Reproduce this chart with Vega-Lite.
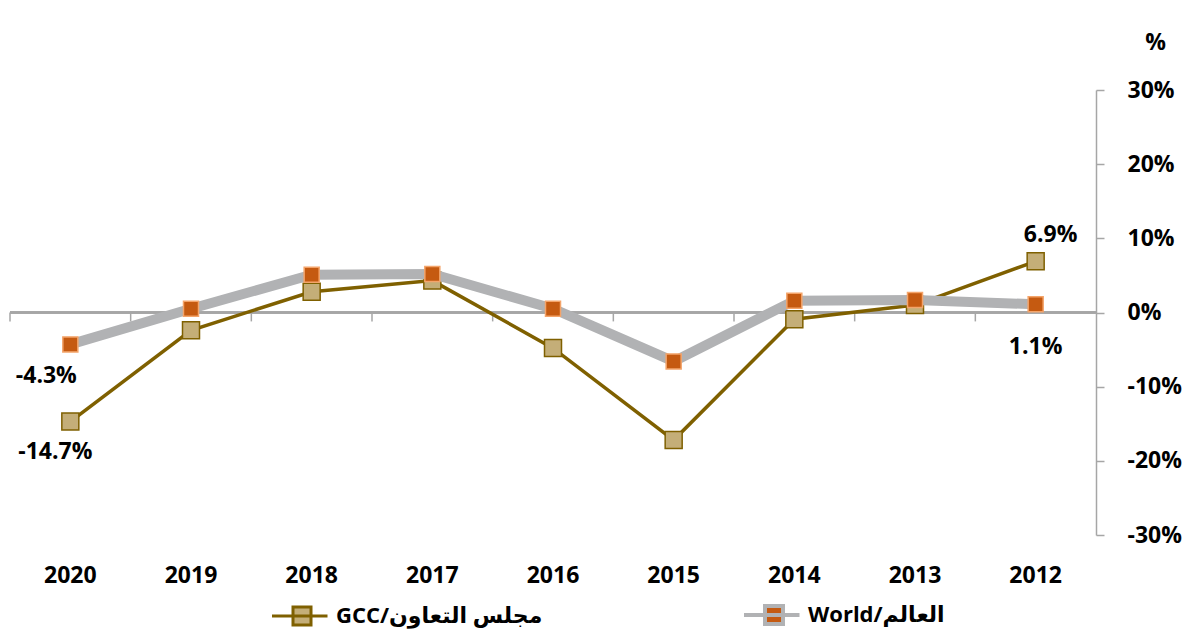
{
  "$schema": "https://vega.github.io/schema/vega-lite/v6.json",
  "width": 1086,
  "height": 445,
  "autosize": {"type": "none"},
  "padding": {"left": 10, "top": 90, "right": 87, "bottom": 109},
  "background": "#ffffff",
  "config": {
    "view": {"stroke": null},
    "font": "Open Sans",
    "axis": {"labelFont": "Open Sans", "labelFontWeight": "bold", "labelColor": "#000000", "labelFontSize": 23, "titleFont": "Open Sans", "titleColor": "#000000"},
    "legend": {"labelFont": "Open Sans, DejaVu Sans", "labelFontWeight": "bold", "labelColor": "#000000", "labelFontSize": 22, "labelLimit": 500}
  },
  "data": {
    "values": [
      {"year": 2020, "series": "GCC/مجلس التعاون", "value": -14.7},
      {"year": 2019, "series": "GCC/مجلس التعاون", "value": -2.4},
      {"year": 2018, "series": "GCC/مجلس التعاون", "value": 2.8},
      {"year": 2017, "series": "GCC/مجلس التعاون", "value": 4.3},
      {"year": 2016, "series": "GCC/مجلس التعاون", "value": -4.8},
      {"year": 2015, "series": "GCC/مجلس التعاون", "value": -17.2},
      {"year": 2014, "series": "GCC/مجلس التعاون", "value": -0.9},
      {"year": 2013, "series": "GCC/مجلس التعاون", "value": 1.0},
      {"year": 2012, "series": "GCC/مجلس التعاون", "value": 6.9},
      {"year": 2020, "series": "World/العالم", "value": -4.3},
      {"year": 2019, "series": "World/العالم", "value": 0.5},
      {"year": 2018, "series": "World/العالم", "value": 5.1},
      {"year": 2017, "series": "World/العالم", "value": 5.2},
      {"year": 2016, "series": "World/العالم", "value": 0.5},
      {"year": 2015, "series": "World/العالم", "value": -6.6},
      {"year": 2014, "series": "World/العالم", "value": 1.6},
      {"year": 2013, "series": "World/العالم", "value": 1.7},
      {"year": 2012, "series": "World/العالم", "value": 1.1}
    ]
  },
  "encoding": {
    "x": {
      "field": "year",
      "type": "ordinal",
      "sort": "descending",
      "axis": {"title": null, "domain": false, "ticks": false, "labelPadding": 29, "labelAngle": 0}
    },
    "y": {
      "field": "value",
      "type": "quantitative",
      "scale": {"domain": [-30, 30], "nice": false},
      "axis": {
        "orient": "right",
        "values": [-30, -20, -10, 0, 10, 20, 30],
        "labelExpr": "datum.value + '%'",
        "grid": false,
        "domainColor": "#A6A6A6",
        "domainWidth": 1.5,
        "tickColor": "#A6A6A6",
        "tickWidth": 1.5,
        "tickSize": 8,
        "labelPadding": 23,
        "labelAlign": "left",
        "title": "%",
        "titleAngle": 0,
        "titleX": 59,
        "titleY": -48,
        "titleAlign": "center",
        "titleBaseline": "middle",
        "titleFontSize": 23,
        "titleFontWeight": "bold"
      }
    }
  },
  "layer": [
    {
      "transform": [{"filter": {"field": "series", "equal": "GCC/مجلس التعاون"}}],
      "mark": {"type": "rule", "color": "#A6A6A6", "strokeWidth": 1.5, "xOffset": -60.33},
      "encoding": {"y": {"datum": 0}, "y2": {"datum": -1.2}}
    },
    {
      "mark": {"type": "rule", "color": "#A6A6A6", "strokeWidth": 1.5},
      "encoding": {"x": null, "y": {"datum": 0}}
    },
    {
      "transform": [{"filter": {"field": "series", "equal": "GCC/مجلس التعاون"}}],
      "mark": {"type": "line", "strokeWidth": 3.5},
      "encoding": {
        "color": {
          "field": "series",
          "type": "nominal",
          "scale": {"domain": ["GCC/مجلس التعاون", "World/العالم"], "range": ["#7F6000", "#B1B2B4"]},
          "legend": {
            "title": null,
            "orient": "none",
            "direction": "horizontal",
            "legendX": 284,
            "legendY": 514,
            "symbolType": "M-1.1,0H0.75M-0.4,-0.3H0.2V0.3H-0.4Z",
            "symbolSize": 3600,
            "symbolStrokeWidth": 3,
            "labelOffset": 20,
            "columnPadding": 193,
            "encode": {
              "symbols": {
                "update": {
                  "fill": {"signal": "datum.value == 'World/العالم' ? '#C55A11' : '#C4AE78'"},
                  "stroke": {"signal": "datum.value == 'World/العالم' ? '#B1B2B4' : '#7F6000'"},
                  "strokeWidth": {"signal": "datum.value == 'World/العالم' ? 4 : 3"},
                  "opacity": {"value": 1}
                }
              }
            }
          }
        }
      }
    },
    {
      "transform": [{"filter": {"field": "series", "equal": "GCC/مجلس التعاون"}}],
      "mark": {"type": "point", "shape": "square", "filled": true, "size": 289, "fill": "#C4AE78", "stroke": "#7F6000", "strokeWidth": 1.5, "opacity": 1}
    },
    {
      "transform": [{"filter": {"field": "series", "equal": "World/العالم"}}],
      "mark": {"type": "line", "strokeWidth": 10},
      "encoding": {"color": {"field": "series", "type": "nominal"}}
    },
    {
      "transform": [{"filter": {"field": "series", "equal": "World/العالم"}}],
      "mark": {"type": "point", "shape": "square", "filled": true, "size": 225, "fill": "#C55A11", "stroke": "#F4A46A", "strokeWidth": 1.5, "opacity": 1}
    },
    {
      "transform": [{"filter": "datum.year == 2012 && datum.series == 'GCC/مجلس التعاون'"}],
      "mark": {"type": "text", "font": "Open Sans", "fontWeight": "bold", "fontSize": 23, "color": "#000000", "dx": 15, "dy": -26, "baseline": "middle", "text": {"expr": "datum.value + '%'"}}
    },
    {
      "transform": [{"filter": "datum.year == 2012 && datum.series == 'World/العالم'"}],
      "mark": {"type": "text", "font": "Open Sans", "fontWeight": "bold", "fontSize": 23, "color": "#000000", "dx": 0, "dy": 43, "baseline": "middle", "text": {"expr": "datum.value + '%'"}}
    },
    {
      "transform": [{"filter": "datum.year == 2020 && datum.series == 'World/العالم'"}],
      "mark": {"type": "text", "font": "Open Sans", "fontWeight": "bold", "fontSize": 23, "color": "#000000", "dx": -24, "dy": 32, "baseline": "middle", "text": {"expr": "datum.value + '%'"}}
    },
    {
      "transform": [{"filter": "datum.year == 2020 && datum.series == 'GCC/مجلس التعاون'"}],
      "mark": {"type": "text", "font": "Open Sans", "fontWeight": "bold", "fontSize": 23, "color": "#000000", "dx": -15, "dy": 30, "baseline": "middle", "text": {"expr": "datum.value + '%'"}}
    }
  ]
}
